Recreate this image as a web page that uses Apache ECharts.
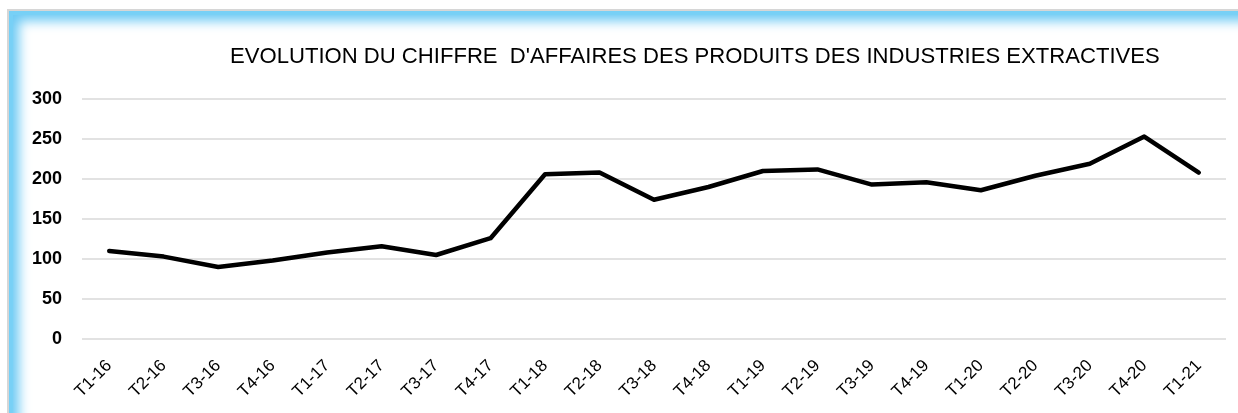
<!DOCTYPE html>
<html>
<head>
<meta charset="utf-8">
<script src="https://cdn.jsdelivr.net/npm/echarts@6/dist/echarts.min.js"></script>
<style>
  html, body { margin: 0; padding: 0; background: #ffffff; width: 1238px; height: 413px; overflow: hidden; }
  #frame {
    position: absolute; left: 7px; top: 9px; width: 1260px; height: 440px;
    border: 2px solid #d6d6d6;
    box-shadow: inset 8px 8px 0 -4px rgba(120, 208, 246, 0.9), inset 15px 15px 12px -5px rgba(110, 202, 244, 1);
    box-sizing: border-box;
  }
  #chart { position: absolute; left: 0; top: 0; width: 1238px; height: 413px; }
</style>
</head>
<body>
<div id="frame"></div>
<div id="chart"></div>
<script>
const titleText = "EVOLUTION DU CHIFFRE  D'AFFAIRES DES PRODUITS DES INDUSTRIES EXTRACTIVES";
const categories = ["T1-16","T2-16","T3-16","T4-16","T1-17","T2-17","T3-17","T4-17","T1-18","T2-18","T3-18","T4-18","T1-19","T2-19","T3-19","T4-19","T1-20","T2-20","T3-20","T4-20","T1-21"];
const values = [110, 103, 90, 98, 108, 116, 105, 126, 206, 208, 174, 190, 210, 212, 193, 196, 186, 204, 219, 253, 208];
const yMin = 0, yMax = 300, yStep = 50;

const chart = echarts.init(document.getElementById('chart'), null, { renderer: 'canvas' });
chart.setOption({
  backgroundColor: 'transparent',
  animation: false,
  title: {
    text: titleText,
    left: 225,
    top: 41,
    textStyle: { fontFamily: 'Liberation Sans', fontSize: 22.1, fontWeight: 'normal', color: '#000000' }
  },
  grid: { left: 82, right: 12, top: 99, bottom: 74, containLabel: false },
  xAxis: {
    type: 'category',
    data: categories,
    boundaryGap: true,
    axisLine: { show: false },
    axisTick: { show: false },
    axisLabel: { rotate: 45, margin: 24, color: '#000000', fontFamily: 'Liberation Sans', fontSize: 17, interval: 0 }
  },
  yAxis: {
    type: 'value',
    min: yMin, max: yMax, interval: yStep,
    axisLine: { show: false },
    axisTick: { show: false },
    axisLabel: { margin: 20, color: '#000000', fontFamily: 'Liberation Sans', fontWeight: 'bold', fontSize: 18 },
    splitLine: { lineStyle: { color: '#d9d9d9', width: 1.5 } }
  },
  series: [{
    type: 'line',
    data: values,
    showSymbol: false,
    symbol: 'none',
    lineStyle: { color: '#000000', width: 4.5, join: 'round', cap: 'round' }
  }]
});
</script>
</body>
</html>
